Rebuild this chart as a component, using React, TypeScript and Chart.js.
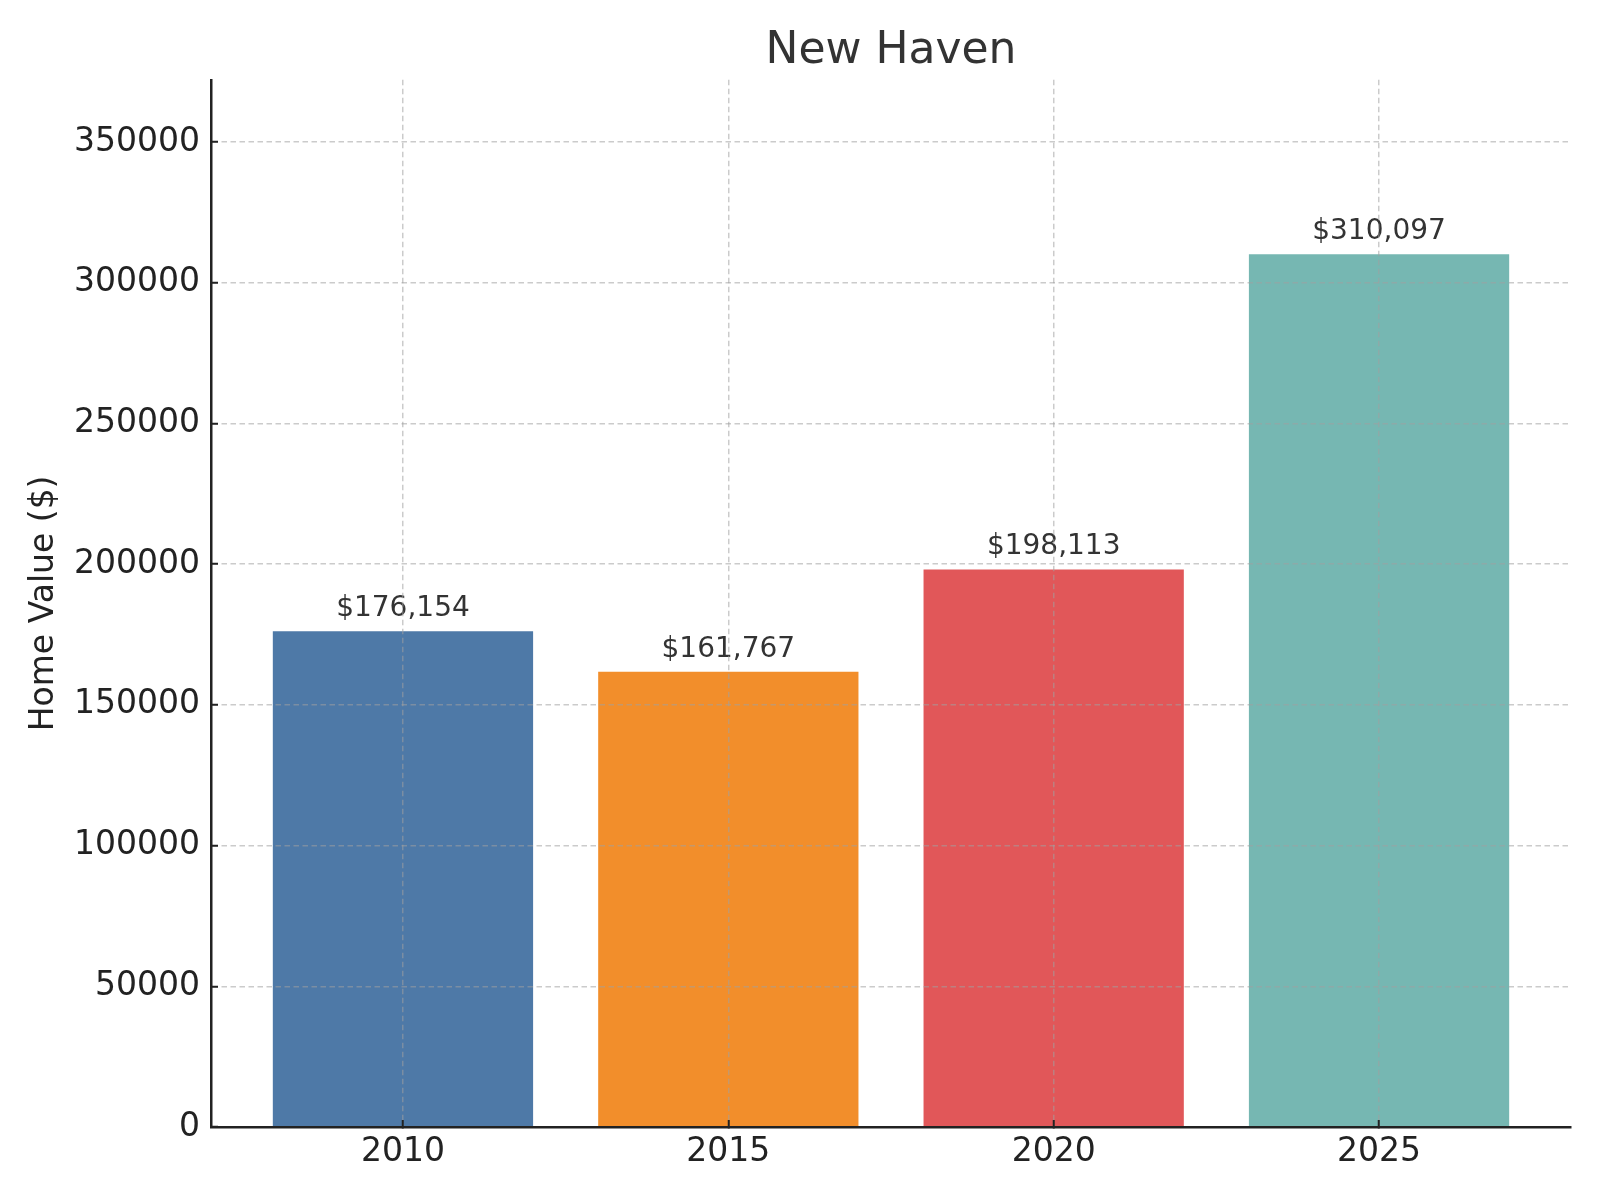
import React, { useEffect, useRef } from 'react';
import { Chart, registerables } from 'chart.js';

Chart.register(...registerables);

const years = ['2010', '2015', '2020', '2025'];
const homeValues = [176154, 161767, 198113, 310097];
const barColors = ['#4e79a7', '#f28e2b', '#e15759', '#76b7b2'];
const yTicks = [0, 50000, 100000, 150000, 200000, 250000, 300000, 350000];

const FONT = "'DejaVu Sans', sans-serif";
const gridColor = 'rgba(160, 160, 160, 0.55)';
const axisColor = '#222222';

// draws "$176,154" etc above each bar
const valueLabels = {
  id: 'valueLabels',
  afterDatasetsDraw(chart: any) {
    const { ctx } = chart;
    const meta = chart.getDatasetMeta(0);
    ctx.save();
    ctx.font = `28px ${FONT}`;
    ctx.fillStyle = '#333333';
    ctx.textAlign = 'center';
    ctx.textBaseline = 'alphabetic';
    meta.data.forEach((bar: any, i: number) => {
      ctx.fillText('$' + homeValues[i].toLocaleString('en-US'), bar.x, bar.y - 15);
    });
    ctx.restore();
  }
};

const HomeValueChart = () => {
  const chartRef = useRef<HTMLCanvasElement>(null);

  useEffect(() => {
    const yMax = Math.max(...homeValues) * 1.2;

    const chartInstance = new Chart(chartRef.current as HTMLCanvasElement, {
      type: 'bar',
      data: {
        datasets: [
          {
            data: homeValues.map((v, i) => ({ x: i, y: v })),
            backgroundColor: barColors,
            borderWidth: 0,
            categoryPercentage: 1,
            barPercentage: 0.8
          }
        ]
      },
      options: {
        animation: false,
        responsive: true,
        maintainAspectRatio: false,
        devicePixelRatio: 1,
        layout: { padding: { top: 0, right: 29, bottom: 0, left: 0 } },
        plugins: {
          legend: { display: false },
          tooltip: { enabled: false },
          title: {
            display: true,
            text: 'New Haven',
            fullSize: false,
            color: '#333333',
            font: { family: FONT, size: 44, weight: 'normal' },
            padding: { top: 25, bottom: 2 }
          }
        },
        scales: {
          x: {
            type: 'linear',
            min: -0.59,
            max: 3.59,
            offset: false,
            afterBuildTicks: (scale: any) => {
              scale.ticks = years.map((_, i) => ({ value: i }));
            },
            afterFit: (scale: any) => {
              scale.height = 73;
            },
            ticks: {
              callback: (value: any) => years[value],
              color: axisColor,
              font: { family: FONT, size: 33 },
              padding: 13,
              autoSkip: false,
              maxRotation: 0
            },
            grid: {
              offset: false,
              z: 1,
              color: gridColor,
              lineWidth: 1.5,
              tickLength: -7,
              tickColor: axisColor,
              tickWidth: 2
            },
            border: { display: true, z: 2, color: axisColor, width: 2.5, dash: [5.5, 3.5] }
          },
          y: {
            min: 0,
            max: yMax,
            afterBuildTicks: (scale: any) => {
              scale.ticks = yTicks.map((v) => ({ value: v }));
            },
            afterFit: (scale: any) => {
              scale.width = 211;
            },
            ticks: {
              callback: (value: any) => String(value),
              color: axisColor,
              font: { family: FONT, size: 33 },
              padding: 18
            },
            title: {
              display: true,
              text: 'Home Value ($)',
              color: axisColor,
              font: { family: FONT, size: 33 },
              padding: { top: 25, bottom: 0 }
            },
            grid: {
              z: 1,
              color: gridColor,
              lineWidth: 1.5,
              tickLength: -7,
              tickColor: axisColor,
              tickWidth: 2
            },
            border: { display: true, z: 2, color: axisColor, width: 2.5, dash: [5.5, 3.5] }
          }
        }
      },
      plugins: [valueLabels]
    });

    return () => {
      chartInstance.destroy();
    };
  }, []);

  return (
    <div style={{ position: 'fixed', left: 0, top: 0, width: 1600, height: 1200, background: '#ffffff' }}>
      <canvas ref={chartRef} />
    </div>
  );
};

export default function App() {
  return <HomeValueChart />;
}
